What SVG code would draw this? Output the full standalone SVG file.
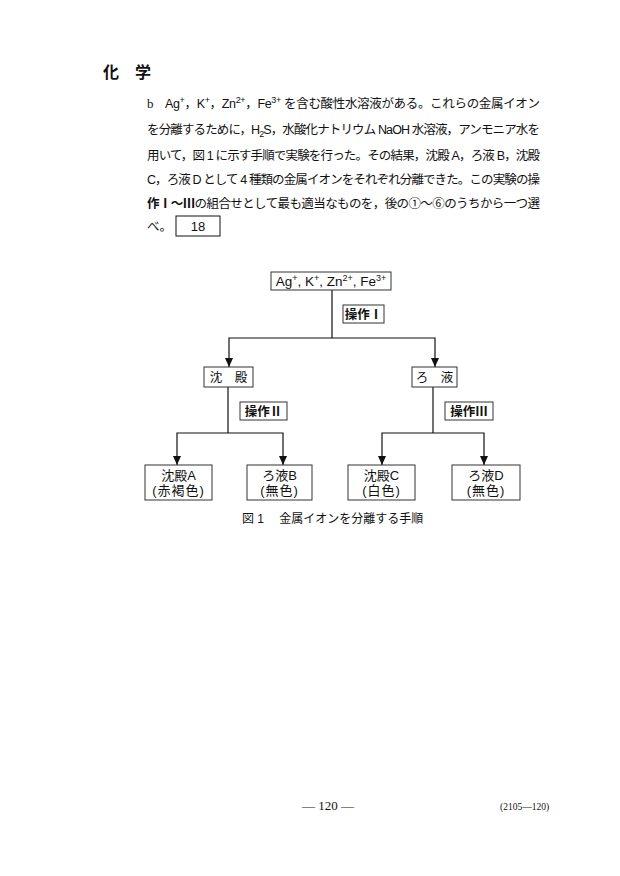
<svg xmlns="http://www.w3.org/2000/svg" width="620" height="876" viewBox="0 0 620 876">
<style>
.t{font-family:"Liberation Sans","Noto Sans CJK JP",sans-serif;font-size:12.5px;fill:#111}
.s{font-family:"Liberation Serif","Noto Sans CJK JP",serif;fill:#111}
.n{font-family:"Liberation Sans","Noto Sans CJK JP",sans-serif;font-size:12.5px;fill:#111;text-anchor:middle}
.box{fill:#fff;stroke:#333;stroke-width:1}
.c{fill:none;stroke:#111;stroke-width:1.2}
</style>
<defs>
<marker id="ah" markerUnits="userSpaceOnUse" markerWidth="9" markerHeight="8" refX="9" refY="4" orient="auto-start-reverse" viewBox="0 0 9 8">
<path d="M0,0 L9,4 L0,8 Z" fill="#111"/>
</marker>
</defs>
<rect width="620" height="876" fill="#fff"/>

<text class="t" x="103" y="78" style="font-size:16px;font-weight:bold">化　学</text>

<text class="s" x="147" y="108" style="font-size:13px">b</text>
<text class="t" x="165" y="108" textLength="375" lengthAdjust="spacing">Ag<tspan dy="-5" font-size="9">+</tspan><tspan dy="5">，K</tspan><tspan dy="-5" font-size="9">+</tspan><tspan dy="5">，Zn</tspan><tspan dy="-5" font-size="9">2+</tspan><tspan dy="5">，Fe</tspan><tspan dy="-5" font-size="9">3+</tspan><tspan dy="5"> を含む酸性水溶液がある。これらの金属イオン</tspan></text>
<text class="t" x="147" y="134" textLength="393" lengthAdjust="spacing">を分離するために，H<tspan dy="3" font-size="9">2</tspan><tspan dy="-3">S，水酸化ナトリウム NaOH 水溶液，アンモニア水を</tspan></text>
<text class="t" x="147" y="160" textLength="393" lengthAdjust="spacing">用いて，図 1 に示す手順で実験を行った。その結果，沈殿 A，ろ液 B，沈殿</text>
<text class="t" x="147" y="184" textLength="393" lengthAdjust="spacing">C，ろ液 D として 4 種類の金属イオンをそれぞれ分離できた。この実験の操</text>
<text class="t" x="147" y="208" textLength="393" lengthAdjust="spacing"><tspan font-weight="bold">作Ⅰ～Ⅲ</tspan>の組合せとして最も適当なものを，後の①～⑥のうちから一つ選</text>
<text class="t" x="147" y="231">べ。</text>
<rect class="box" x="176" y="216" width="44" height="20" style="stroke:#111"/>
<text class="n" x="198" y="231" style="font-size:13px">18</text>

<g id="connectors">
<polyline class="c" points="332,290 332,338"/>
<polyline class="c" points="229,367 229,338 435,338 435,367" marker-start="url(#ah)" marker-end="url(#ah)"/>
<polyline class="c" points="228,387 228,433"/>
<polyline class="c" points="177,465 177,433 283,433 283,465" marker-start="url(#ah)" marker-end="url(#ah)"/>
<polyline class="c" points="433,387 433,433"/>
<polyline class="c" points="382,465 382,433 484,433 484,465" marker-start="url(#ah)" marker-end="url(#ah)"/>
</g>

<g id="node-start">
<rect class="box" x="271" y="272" width="120" height="18"/>
<text class="n" x="331" y="286" style="font-size:13.5px">Ag<tspan dy="-5" font-size="9">+</tspan><tspan dy="5">, K</tspan><tspan dy="-5" font-size="9">+</tspan><tspan dy="5">, Zn</tspan><tspan dy="-5" font-size="9">2+</tspan><tspan dy="5">, Fe</tspan><tspan dy="-5" font-size="9">3+</tspan></text>
</g>
<g id="op1">
<rect class="box" x="343" y="305" width="41" height="18"/>
<text class="n" x="363.5" y="319" font-weight="bold">操作Ⅰ</text>
</g>
<g id="node-ppt">
<rect class="box" x="204" y="367" width="49" height="20"/>
<text class="n" x="228.5" y="382">沈　殿</text>
</g>
<g id="node-filt">
<rect class="box" x="412" y="367" width="45" height="20"/>
<text class="n" x="434.5" y="382">ろ　液</text>
</g>
<g id="op2">
<rect class="box" x="240" y="402" width="47" height="18"/>
<text class="n" x="263.5" y="416" font-weight="bold">操作Ⅱ</text>
</g>
<g id="op3">
<rect class="box" x="445" y="402" width="48" height="18"/>
<text class="n" x="469" y="416" font-weight="bold">操作Ⅲ</text>
</g>
<g id="node-A">
<rect class="box" x="145" y="465" width="67" height="35"/>
<text class="n" x="178.5" y="480" style="font-size:13px">沈殿A</text>
<text class="n" x="178.5" y="495" style="font-size:13px;letter-spacing:1px">(赤褐色)</text>
</g>
<g id="node-B">
<rect class="box" x="247" y="465" width="65" height="35"/>
<text class="n" x="279.5" y="480" style="font-size:13px">ろ液B</text>
<text class="n" x="279.5" y="495" style="font-size:13px;letter-spacing:1px">(無色)</text>
</g>
<g id="node-C">
<rect class="box" x="348" y="465" width="67" height="35"/>
<text class="n" x="381.5" y="480" style="font-size:13px">沈殿C</text>
<text class="n" x="381.5" y="495" style="font-size:13px;letter-spacing:1px">(白色)</text>
</g>
<g id="node-D">
<rect class="box" x="452" y="465" width="68" height="35"/>
<text class="n" x="486" y="480" style="font-size:13px">ろ液D</text>
<text class="n" x="486" y="495" style="font-size:13px;letter-spacing:1px">(無色)</text>
</g>

<text class="t" x="242" y="523" style="font-size:12px">図 1　 金属イオンを分離する手順</text>

<text class="s" x="328" y="810" text-anchor="middle" style="font-size:13px">— 120 —</text>
<text class="s" x="500" y="810" style="font-size:9.5px">(2105—120)</text>
</svg>
